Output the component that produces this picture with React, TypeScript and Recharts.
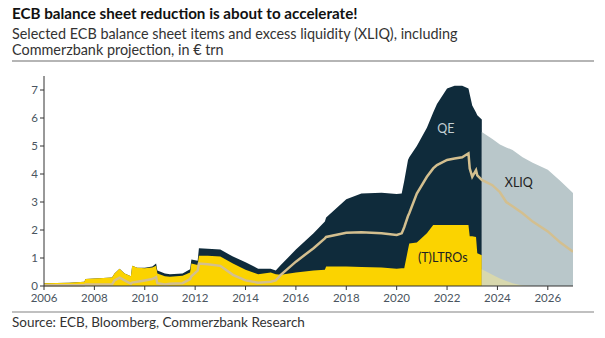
import React from 'react'
import { ComposedChart, Area, Line, XAxis, YAxis, ReferenceDot } from 'recharts'

// historical balance sheet items, € trn
const histYears = [
  2006.0, 2007.0, 2007.6, 2007.65, 2008.7, 2008.8, 2009.0, 2009.2, 2009.45, 2009.5,
  2009.7, 2010.0, 2010.3, 2010.45, 2010.5, 2010.8, 2011.0, 2011.5, 2011.8, 2011.85,
  2012.1, 2012.15, 2012.5, 2013.0, 2013.5, 2014.0, 2014.5, 2015.0, 2015.2, 2015.4,
  2016.0, 2016.7, 2017.15, 2017.2, 2018.0, 2018.6, 2019.4, 2020.0, 2020.2, 2020.3,
  2020.45, 2020.5, 2020.8, 2021.2, 2021.45, 2021.6, 2022.0, 2022.3, 2022.6, 2022.85,
  2022.9, 2023.0, 2023.15, 2023.2, 2023.38,
]
const histTotal = [
  0.1, 0.12, 0.15, 0.25, 0.3, 0.45, 0.62, 0.45, 0.35, 0.72,
  0.65, 0.65, 0.7, 0.8, 0.55, 0.45, 0.42, 0.45, 0.6, 0.95,
  0.9, 1.35, 1.33, 1.3, 1.05, 0.85, 0.62, 0.62, 0.55, 0.75,
  1.3, 1.88, 2.3, 2.45, 3.1, 3.3, 3.33, 3.29, 3.3, 3.75,
  4.5, 4.6, 5.0, 5.65, 6.2, 6.5, 7.05, 7.15, 7.15, 7.05,
  6.85, 6.45, 6.2, 6.1, 5.95,
]
const histTltro = [
  0.1, 0.12, 0.15, 0.25, 0.3, 0.45, 0.62, 0.45, 0.35, 0.72,
  0.65, 0.63, 0.66, 0.72, 0.45, 0.35, 0.33, 0.37, 0.48, 0.8,
  0.75, 1.08, 1.08, 1.05, 0.8, 0.58, 0.42, 0.48, 0.42, 0.4,
  0.48, 0.55, 0.58, 0.7, 0.7, 0.68, 0.66, 0.62, 0.63, 0.63,
  1.3, 1.52, 1.55, 1.88, 2.18, 2.18, 2.18, 2.18, 2.18, 2.18,
  1.78, 1.78, 1.75, 1.17, 1.1,
]
const histXliq = [
  0.03, 0.03, 0.03, 0.05, 0.05, 0.2, 0.3, 0.2, 0.08, 0.12,
  0.15, 0.2, 0.25, 0.32, 0.1, 0.05, 0.08, 0.1, 0.25, 0.35,
  0.55, 0.8, 0.78, 0.72, 0.4, 0.2, 0.12, 0.15, 0.2, 0.4,
  0.87, 1.35, 1.7, 1.75, 1.9, 1.92, 1.88, 1.82, 1.88, 2.1,
  2.5, 2.6, 3.3, 3.9, 4.2, 4.32, 4.5, 4.55, 4.6, 4.74,
  4.2, 3.9, 4.14, 3.95, 3.79,
]

// Commerzbank projection
const projYears = [2023.38, 2023.8, 2024.1, 2024.35, 2024.6, 2025.0, 2025.4, 2026.0, 2026.5, 2027.0]
const projTotal = [5.5, 5.25, 5.05, 4.95, 4.86, 4.6, 4.4, 4.15, 3.75, 3.32]
const projTltro = [0.6, 0.4, 0.27, 0.18, 0.1, 0.02, 0, 0, 0, 0]
const projXliq = [3.79, 3.6, 3.35, 3.0, 2.85, 2.6, 2.3, 1.95, 1.55, 1.22]

const xTicks = [2006, 2008, 2010, 2012, 2014, 2016, 2018, 2020, 2022, 2024, 2026]
const yTicks = [0, 1, 2, 3, 4, 5, 6, 7]

const NAVY = '#0f2b3b'
const YELLOW = '#fbd300'
const GREY = '#b9c7ca'
const PALE = '#d8d8ad'
const TAN = '#d3bf8f'

const rows: any[] = histYears.map((y, i) => ({
  year: y, total: histTotal[i], tltro: histTltro[i], xliq: histXliq[i],
}))
projYears.forEach((y, i) => {
  const r = rows.find((d) => d.year === y)
  if (r) {
    r.projTotal = projTotal[i]
    r.projTltro = projTltro[i]
  } else {
    rows.push({ year: y, projTotal: projTotal[i], projTltro: projTltro[i], xliq: projXliq[i] })
  }
})

const font = 'Lato, "Open Sans", sans-serif'
const subStyle: React.CSSProperties = {
  position: 'absolute', left: 12, fontSize: 14.4, lineHeight: '14px', color: '#333', whiteSpace: 'nowrap',
}

export default function App() {
  return (
    <div style={{ position: 'absolute', left: 0, top: 0, width: 605, height: 338, background: '#fff', fontFamily: font }}>
      <div style={{ position: 'absolute', left: 12, top: 4, fontSize: 15.2, fontWeight: 700, color: '#111', whiteSpace: 'nowrap' }}>
        ECB balance sheet reduction is about to accelerate!
      </div>
      <div style={{ ...subStyle, top: 27 }}>
        Selected ECB balance sheet items and excess liquidity (XLIQ), including
      </div>
      <div style={{ ...subStyle, top: 43 }}>
        Commerzbank projection, in € trn
      </div>
      <div style={{ position: 'absolute', left: 12, top: 60, width: 582, height: 2, background: '#b5b5b5' }} />
      <div style={{ position: 'absolute', left: 0, top: 0 }}>
        <ComposedChart width={605} height={338} data={rows} margin={{ top: 76, right: 32, bottom: 32, left: 14 }}>
          <XAxis
            dataKey="year" type="number" domain={[2006, 2027]} ticks={xTicks} height={20}
            tick={{ fontSize: 11.5, fill: '#4a5560', fontFamily: font }} tickSize={4} tickMargin={4}
            axisLine={{ stroke: '#333' }} tickLine={{ stroke: '#333' }} allowDataOverflow
          />
          <YAxis
            type="number" domain={[0, 7.5]} ticks={yTicks} width={30}
            tick={{ fontSize: 11.5, fill: '#4a5560', fontFamily: font }} tickSize={4}
            axisLine={{ stroke: '#333' }} tickLine={{ stroke: '#333' }}
          />
          <Area type="linear" dataKey="total" stroke="none" fill={NAVY} fillOpacity={1} isAnimationActive={false} dot={false} activeDot={false} />
          <Area type="linear" dataKey="tltro" stroke="none" fill={YELLOW} fillOpacity={1} isAnimationActive={false} dot={false} activeDot={false} />
          <Area type="linear" dataKey="projTotal" stroke="none" fill={GREY} fillOpacity={1} isAnimationActive={false} dot={false} activeDot={false} />
          <Area type="linear" dataKey="projTltro" stroke="none" fill={PALE} fillOpacity={1} isAnimationActive={false} dot={false} activeDot={false} />
          <Line type="linear" dataKey="xliq" stroke={TAN} strokeWidth={2.5} dot={false} activeDot={false} isAnimationActive={false} />
          <ReferenceDot x={2021.95} y={5.64} r={0} stroke="none" fill="none"
            label={{ value: 'QE', position: 'center', fill: '#c3cfd4', fontSize: 12.5, fontFamily: font }} />
          <ReferenceDot x={2024.85} y={3.68} r={0} stroke="none" fill="none"
            label={{ value: 'XLIQ', position: 'center', fill: '#222', fontSize: 12.5, fontFamily: font }} />
          <ReferenceDot x={2021.83} y={1.0} r={0} stroke="none" fill="none"
            label={{ value: '(T)LTROs', position: 'center', fill: '#222', fontSize: 12.5, fontFamily: font }} />
        </ComposedChart>
      </div>
      <div style={{ position: 'absolute', left: 12, top: 311, width: 582, height: 2, background: '#c0c0c0' }} />
      <div style={{ position: 'absolute', left: 12, top: 314, fontSize: 13.5, color: '#333', whiteSpace: 'nowrap' }}>
        Source: ECB, Bloomberg, Commerzbank Research
      </div>
    </div>
  )
}
